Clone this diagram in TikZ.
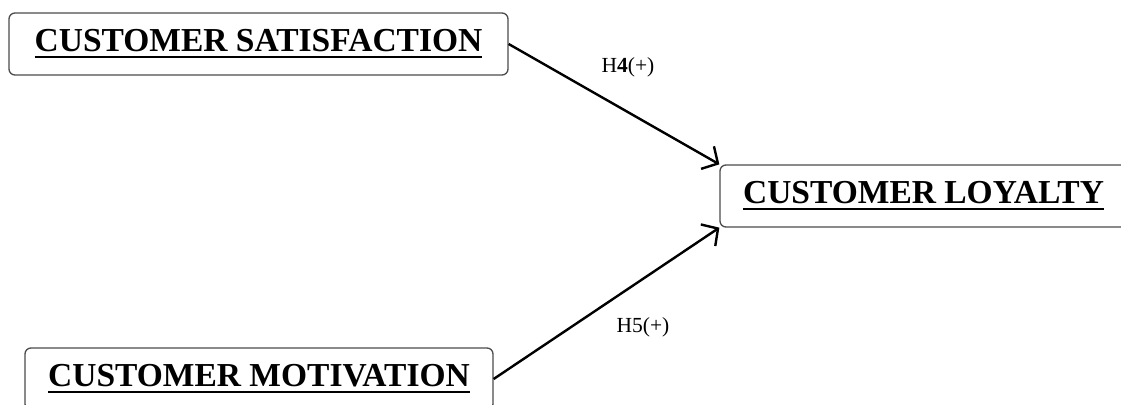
\documentclass[tikz,border=0pt]{standalone}
\usepackage{fontspec}
\setmainfont{Liberation Serif}
\usetikzlibrary{arrows.meta}
\newcommand{\thickul}[1]{\setbox0\hbox{#1}\rlap{\copy0}\rule[-6.5pt]{\wd0}{2.4pt}}
\tikzset{
  box/.style={draw=black!70, line width=1.3pt, rounded corners=6pt, minimum height=62pt, inner sep=0pt,
    font=\fontsize{33.5}{36}\selectfont\bfseries, fill=white},
  conn/.style={line width=2.4pt, -{Straight Barb[length=12pt,width=26pt,line width=2.4pt]}},
  lbl/.style={font=\fontsize{21.5}{24}\selectfont, inner sep=0pt}
}
\begin{document}
\begin{tikzpicture}[x=1pt,y=1pt]
\useasboundingbox (0,0) rectangle (1121,404);
\clip (0,0) rectangle (1121,404);
\fill[white] (0,0) rectangle (1121,404);
\node[box, minimum width=499pt] (sat) at (258.5,360) {\thickul{CUSTOMER SATISFACTION}};
\node[box, minimum width=468pt] (mot) at (259,25) {\thickul{CUSTOMER MOTIVATION}};
\node[box, minimum width=407pt] (loy) at (923.5,208) {\thickul{CUSTOMER LOYALTY}};
\draw[conn] (sat.east) -- (loy.north west);
\draw[conn] (mot.east) -- (loy.south west);
\node[lbl] (h4) at (628,337) {H\textbf{4}(+)};
\node[lbl] (h5) at (643,77) {H5(+)};
\end{tikzpicture}
\end{document}
